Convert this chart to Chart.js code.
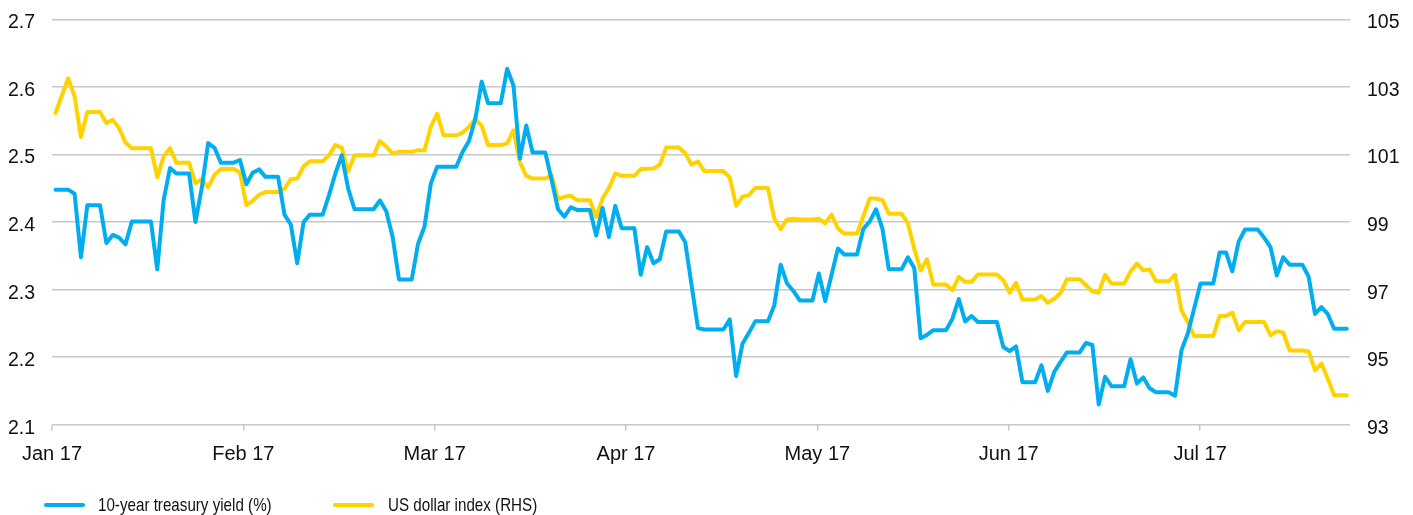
<!DOCTYPE html>
<html>
<head>
<meta charset="utf-8">
<script src="https://cdn.jsdelivr.net/npm/chart.js@4.4.0/dist/chart.umd.min.js"></script>
<style>
html,body{margin:0;padding:0;background:#fff;}
#wrap{position:relative;width:1413px;height:515px;overflow:hidden;}
#c{position:absolute;left:0;top:0;}
.sw{position:absolute;top:503px;width:41px;height:4px;border-radius:2px;}
.lt{position:absolute;top:496.2px;font-family:"Liberation Sans",Arial,sans-serif;font-size:18.5px;line-height:18.5px;color:#111;white-space:nowrap;transform:scaleX(0.82);transform-origin:0 50%;}
</style>
</head>
<body>
<div id="wrap">
<canvas id="c" width="1413" height="515"></canvas>
<div class="sw" id="sw0" style="left:44px"></div><div class="lt" id="lt0" style="left:98px"></div>
<div class="sw" id="sw1" style="left:333px"></div><div class="lt" id="lt1" style="left:388px"></div>
</div>
<script>
// Daily values, 1 Jan 2017 (index 0) to 23 Jul 2017 (index 203); weekends/holidays carry the previous value
const monthLabels = ['Jan 17','Feb 17','Mar 17','Apr 17','May 17','Jun 17','Jul 17'];
const leftTicks = [2.1, 2.2, 2.3, 2.4, 2.5, 2.6, 2.7];
const rightTicks = [93, 95, 97, 99, 101, 103, 105];
const seriesNames = ['10-year treasury yield (%)', 'US dollar index (RHS)'];

const treasuryYield = [
  // Jan
  2.448,2.448,2.448,2.442,2.348,2.425,2.425,2.425,2.369,2.381,2.377,2.367,2.401,2.401,2.401,2.401,
  2.330,2.433,2.480,2.472,2.472,2.472,2.400,2.451,2.517,2.510,2.488,2.488,2.488,2.492,2.456,
  // Feb
  2.473,2.478,2.467,2.467,2.467,2.411,2.396,2.339,2.400,2.411,2.411,2.411,2.440,2.472,2.499,2.450,
  2.419,2.419,2.419,2.419,2.432,2.416,2.378,2.315,2.315,2.315,2.368,2.393,
  // Mar
  2.457,2.482,2.482,2.482,2.482,2.504,2.520,2.553,2.608,2.576,2.576,2.576,2.627,2.602,2.494,2.543,
  2.503,2.503,2.503,2.462,2.419,2.408,2.422,2.418,2.418,2.418,2.380,2.421,2.378,2.424,2.391,
  // Apr
  2.391,2.391,2.322,2.363,2.339,2.345,2.386,2.386,2.386,2.370,2.306,2.243,2.241,2.241,2.241,
  2.241,2.256,2.172,2.220,2.236,2.253,2.253,2.253,2.277,2.337,2.309,2.298,2.284,2.284,2.284,
  // May
  2.324,2.283,2.322,2.361,2.352,2.352,2.352,2.390,2.401,2.419,2.390,2.330,2.330,2.330,2.348,2.332,
  2.228,2.233,2.240,2.240,2.240,2.257,2.286,2.253,2.261,2.252,2.252,2.252,2.252,2.215,2.209,
  // Jun
  2.216,2.163,2.163,2.163,2.188,2.150,2.178,2.193,2.207,2.207,2.207,2.221,2.218,2.130,2.171,
  2.157,2.157,2.157,2.197,2.161,2.170,2.154,2.148,2.148,2.148,2.143,2.210,2.235,2.272,2.309,
  // Jul
  2.309,2.309,2.355,2.355,2.327,2.371,2.389,2.389,2.389,2.377,2.363,2.321,2.348,2.337,2.337,
  2.337,2.319,2.264,2.274,2.264,2.242,2.242,2.242
];

const dollarIndex = [
  // Jan
  102.23,102.75,103.26,102.72,101.52,102.26,102.26,102.26,101.93,102.03,101.78,101.36,101.19,101.19,101.19,101.19,
  100.33,100.94,101.19,100.76,100.76,100.76,100.15,100.27,100.03,100.40,100.57,100.57,100.57,100.47,99.50,
  // Feb
  99.63,99.81,99.89,99.89,99.89,99.99,100.27,100.29,100.65,100.80,100.80,100.80,100.98,101.28,101.20,100.49,
  100.98,100.98,100.98,100.98,101.40,101.23,101.03,101.08,101.08,101.08,101.13,101.12,
  // Mar
  101.82,102.21,101.57,101.57,101.57,101.65,101.82,102.05,101.85,101.28,101.28,101.28,101.33,101.72,100.78,100.37,
  100.29,100.29,100.29,100.39,99.68,99.75,99.78,99.65,99.65,99.65,99.15,99.70,100.01,100.44,100.37,
  // Apr
  100.37,100.37,100.57,100.58,100.59,100.70,101.21,101.21,101.21,101.03,100.70,100.80,100.51,100.51,100.51,
  100.51,100.32,99.48,99.75,99.80,100.01,100.01,100.01,99.10,98.79,99.08,99.10,99.08,99.08,99.08,
  // May
  99.10,98.96,99.22,98.81,98.66,98.66,98.66,99.18,99.70,99.70,99.65,99.25,99.25,99.25,98.96,98.21,
  97.57,97.90,97.15,97.15,97.15,96.98,97.38,97.23,97.23,97.45,97.45,97.45,97.45,97.28,96.91,
  // Jun
  97.20,96.71,96.71,96.71,96.81,96.61,96.73,96.90,97.31,97.31,97.31,97.13,96.95,96.91,97.44,
  97.18,97.18,97.18,97.54,97.77,97.57,97.60,97.25,97.25,97.25,97.44,96.39,96.04,95.63,95.63,
  // Jul
  95.63,95.63,96.22,96.22,96.32,95.80,96.04,96.04,96.04,96.04,95.65,95.77,95.73,95.20,95.20,
  95.20,95.17,94.61,94.81,94.37,93.87,93.87,93.87
];

const BLUE = '#00AEEF';
const YELLOW = '#FFD200';
const GRID = '#c8c8c8';
const tickFont = {family: '"Liberation Sans", Arial, sans-serif', size: 19.5};

const xMin = -0.55, xMax = 203.5, monthStep = 30.08;

document.getElementById('sw0').style.background = BLUE;
document.getElementById('sw1').style.background = YELLOW;
document.getElementById('lt0').textContent = seriesNames[0];
document.getElementById('lt1').textContent = seriesNames[1];

const fitVertical = w => s => { s.width = w; s.paddingTop = 0; s.paddingBottom = 0; };

new Chart(document.getElementById('c'), {
  type: 'line',
  data: {
    datasets: [
      {
        label: seriesNames[0],
        data: treasuryYield.map((v, i) => ({x: i, y: v})),
        yAxisID: 'y',
        borderColor: BLUE,
        borderWidth: 4,
        pointRadius: 0,
        tension: 0,
        borderJoinStyle: 'round',
        borderCapStyle: 'round'
      },
      {
        label: seriesNames[1],
        data: dollarIndex.map((v, i) => ({x: i, y: v})),
        yAxisID: 'y2',
        borderColor: YELLOW,
        borderWidth: 4,
        pointRadius: 0,
        tension: 0,
        borderJoinStyle: 'round',
        borderCapStyle: 'round'
      }
    ]
  },
  options: {
    responsive: false,
    animation: false,
    devicePixelRatio: 1,
    layout: {padding: {top: 19.5, left: 0, right: 0, bottom: 0}},
    plugins: {legend: {display: false}, tooltip: {enabled: false}},
    scales: {
      x: {
        type: 'linear',
        min: xMin,
        max: xMax,
        afterBuildTicks: s => { s.ticks = monthLabels.map((_, k) => ({value: xMin + k * monthStep})); },
        afterFit: s => { s.height = 90.3; s.paddingLeft = 0; s.paddingRight = 0; },
        grid: {drawOnChartArea: false, drawTicks: true, tickLength: 6, color: GRID, lineWidth: 1.5},
        border: {display: false},
        ticks: {
          autoSkip: false, maxRotation: 0, minRotation: 0, padding: 12,
          color: '#111', font: {family: tickFont.family, size: 20},
          callback: (v, i) => monthLabels[i]
        }
      },
      y: {
        position: 'left',
        min: 2.1, max: 2.7,
        afterBuildTicks: s => { s.ticks = leftTicks.map(v => ({value: v})); },
        afterFit: fitVertical(52),
        grid: {color: GRID, lineWidth: 1.5, drawTicks: false},
        border: {display: false},
        ticks: {padding: 17, color: '#111', font: tickFont, labelOffset: 3.5, callback: v => v.toFixed(1)}
      },
      y2: {
        position: 'right',
        min: 93, max: 105,
        afterBuildTicks: s => { s.ticks = rightTicks.map(v => ({value: v})); },
        afterFit: fitVertical(63),
        grid: {drawOnChartArea: false, drawTicks: false},
        border: {display: false},
        ticks: {padding: 17, color: '#111', font: tickFont, labelOffset: 3.5, callback: v => String(v)}
      }
    }
  }
});
</script>
</body>
</html>
